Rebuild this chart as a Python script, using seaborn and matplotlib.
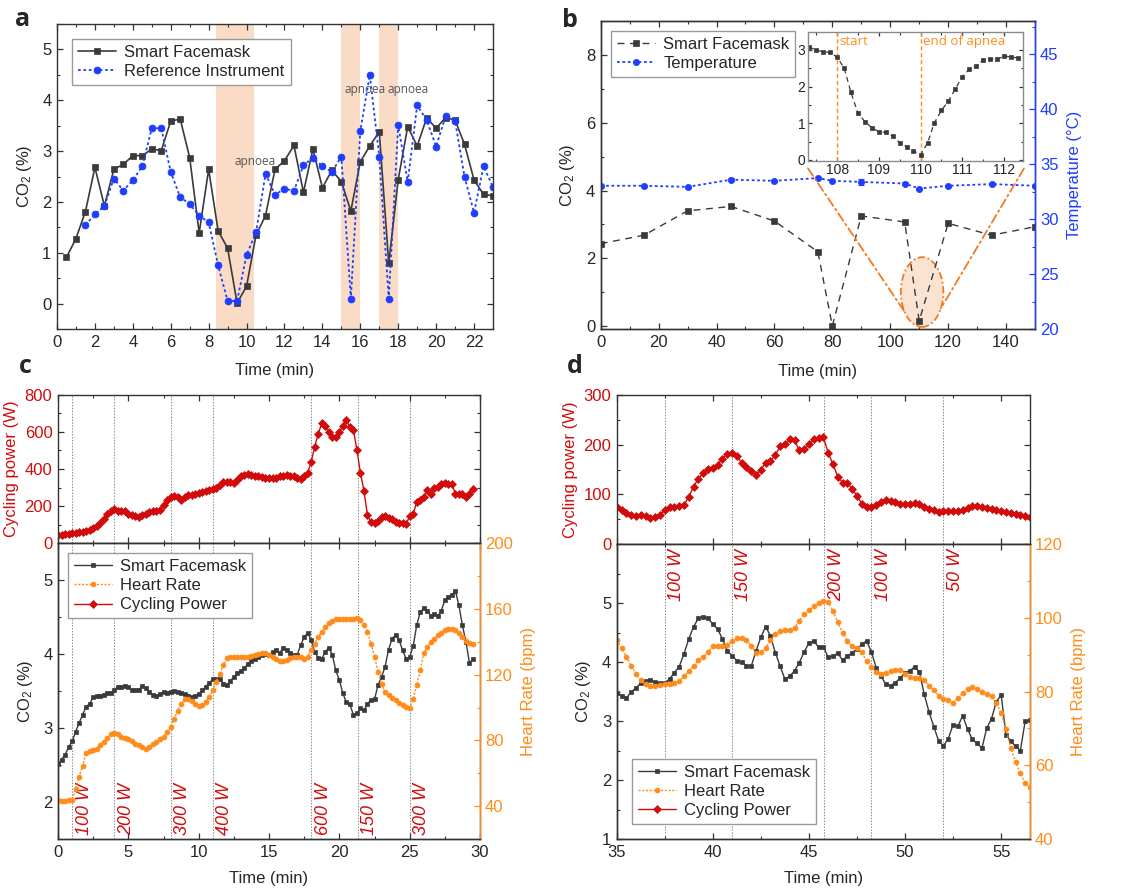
import numpy as np
import matplotlib
matplotlib.use('Agg')
import matplotlib.pyplot as plt
from matplotlib.ticker import MultipleLocator, FixedLocator
from matplotlib.patches import Ellipse, ConnectionPatch
import seaborn as sns

# ---------------- Panel a data ----------------
a_mask_time = np.arange(0.5, 23.01, 0.5)
a_mask_co2 = [0.91, 1.28, 1.81, 2.68, 1.92, 2.64, 2.74, 2.91, 2.91, 3.04, 3.01, 3.59,
              3.63, 2.87, 1.39, 2.64, 1.43, 1.09, 0.01, 0.34, 1.35, 1.73, 2.64, 2.81,
              3.11, 2.19, 3.04, 2.28, 2.62, 2.40, 1.82, 2.79, 3.10, 3.38, 0.79, 2.44,
              3.48, 3.10, 3.65, 3.45, 3.66, 3.61, 3.13, 2.43, 2.15, 2.12]
a_ref_time = np.arange(1.5, 23.01, 0.5)
a_ref_co2 = [1.54, 1.76, 1.92, 2.46, 2.22, 2.43, 2.70, 3.45, 3.45, 2.59, 2.09, 1.96,
             1.73, 1.60, 0.75, 0.05, 0.05, 0.96, 1.40, 2.55, 2.14, 2.26, 2.22, 2.72,
             2.87, 2.70, 2.59, 2.89, 0.10, 3.40, 4.50, 2.89, 0.10, 3.51, 2.39, 3.90,
             3.61, 3.09, 3.69, 3.59, 2.49, 1.79, 2.70, 2.29]
a_apnoea_start = [8.4, 15.0, 17.0]
a_apnoea_end = [10.4, 16.0, 18.0]
a_apnoea_label_x = [10.43, 16.25, 18.5]
a_apnoea_label_y = [2.80, 4.21, 4.21]

# ---------------- Panel b data ----------------
b_time = [0, 15, 30, 45, 60, 75, 80, 90, 105, 110, 120, 135, 150]
b_co2 = [2.43, 2.68, 3.40, 3.53, 3.10, 2.19, 0.0, 3.25, 3.07, 0.15, 3.03, 2.68, 2.93]
b_temp = [33.05, 33.05, 32.95, 33.6, 33.5, 33.75, 33.5, 33.4, 33.25, 32.8, 33.05, 33.2, 33.05]
b_temp_err = [0.1, 0.08, 0.1, 0.12, 0.08, 0.12, 0.1, 0.3, 0.1, 0.08, 0.1, 0.08, 0.08]
inset_time = [107.33, 107.5, 107.67, 107.83, 108.0, 108.17, 108.33, 108.5, 108.67, 108.83,
              109.0, 109.17, 109.33, 109.5, 109.67, 109.83, 110.0, 110.17, 110.33, 110.5,
              110.67, 110.83, 111.0, 111.17, 111.33, 111.5, 111.67, 111.83, 112.0, 112.17,
              112.33]
inset_co2 = [3.08, 2.99, 2.95, 2.93, 2.80, 2.50, 1.84, 1.27, 1.04, 0.88, 0.77, 0.75, 0.65,
             0.47, 0.36, 0.25, 0.14, 0.47, 1.01, 1.35, 1.61, 1.93, 2.27, 2.47, 2.55, 2.73,
             2.76, 2.74, 2.83, 2.81, 2.78]
apnea_start, apnea_end = 108.0, 110.0

# ---------------- Panel c data ----------------
c_time = np.arange(0, 29.51, 0.25)
c_power = [45, 46, 50, 52, 55, 58, 60, 63, 68, 74, 82, 95, 110, 130, 160, 175,
           185, 176, 172, 175, 160, 152, 146, 142, 150, 160, 168, 172, 175, 180, 205, 235,
           248, 252, 250, 235, 250, 262, 262, 268, 272, 278, 282, 288, 292, 300, 315, 328,
           332, 330, 326, 340, 360, 368, 375, 368, 362, 360, 358, 352, 350, 352, 350, 362,
           365, 368, 365, 360, 352, 346, 360, 378, 440, 520, 590, 645, 630, 598, 572, 572,
           600, 632, 662, 625, 612, 502, 380, 282, 150, 115, 110, 118, 140, 145, 135, 130,
           112, 108, 108, 105, 145, 158, 220, 235, 248, 285, 268, 300, 305, 318, 322, 318,
           318, 268, 265, 268, 248, 265, 292]
c_co2 = [2.51, 2.57, 2.64, 2.74, 2.82, 2.95, 3.07, 3.18, 3.29, 3.33, 3.42, 3.43,
         3.43, 3.45, 3.48, 3.47, 3.51, 3.56, 3.56, 3.57, 3.55, 3.52, 3.52, 3.52,
         3.57, 3.54, 3.49, 3.45, 3.44, 3.46, 3.49, 3.48, 3.49, 3.50, 3.49, 3.47,
         3.46, 3.44, 3.42, 3.44, 3.46, 3.51, 3.56, 3.61, 3.66, 3.66, 3.67, 3.60,
         3.58, 3.64, 3.69, 3.74, 3.77, 3.81, 3.87, 3.91, 3.94, 3.96, 3.99, 4.00,
         3.99, 4.03, 4.05, 4.01, 4.09, 4.06, 4.02, 3.99, 3.99, 4.12, 4.23, 4.29,
         4.19, 4.03, 3.95, 3.94, 4.03, 4.09, 3.99, 3.78, 3.65, 3.47, 3.35, 3.32,
         3.18, 3.20, 3.27, 3.24, 3.33, 3.38, 3.39, 3.58, 3.69, 3.83, 4.06, 4.21,
         4.26, 4.19, 4.05, 3.94, 3.96, 4.11, 4.39, 4.57, 4.62, 4.59, 4.52, 4.54,
         4.51, 4.59, 4.73, 4.78, 4.80, 4.86, 4.66, 4.39, 4.17, 3.88, 3.93]
c_hr = [43.5, 43, 43, 43.5, 43.9, 50.6, 57.7, 64.6, 72.5, 73.6, 74.4, 75,
        77, 79, 81.7, 84, 84.5, 84.1, 82, 81.3, 80.7, 79.7, 78, 77,
        76, 75, 76, 77.6, 79, 80.7, 82, 85, 88, 93, 98, 102,
        105, 105, 104, 102.4, 101.2, 101.6, 103.2, 106.5, 110.6, 115.7, 120.7, 125.8,
        129.9, 131, 131, 130.5, 130.5, 130.5, 131, 131.3, 132, 132.5, 133.3, 133,
        132, 130.5, 129.3, 128.5, 128.5, 128.9, 129.9, 130.5, 131, 130.5, 129.3, 131,
        135, 139, 143, 146.2, 148.8, 151.2, 152.9, 153.7, 153.9, 153.9, 153.9, 154.1,
        154.1, 154.7, 153.3, 150.2, 146.2, 139, 131, 121.8, 114.6, 109.6, 107.5, 106.1,
        104.5, 103, 101.8, 100.4, 99.8, 105.5, 113.6, 122.8, 133, 137, 140, 142,
        144, 145.7, 147.2, 147.6, 147.8, 147.2, 145.1, 142.7, 140.7, 139.4, 138.6]
c_steps = [1, 4, 8, 11, 18, 21.3, 25]
c_step_labels = ['100 W', '200 W', '300 W', '400 W', '600 W', '150 W', '300 W']

# ---------------- Panel d data ----------------
d_time = np.arange(35, 56.51, 0.25)
d_power = [74, 68, 62, 59, 57, 59, 57, 52, 54, 59, 69, 74, 74, 76, 79, 95,
           116, 132, 143, 151, 153, 160, 172, 182, 184, 177, 164, 155, 147, 140, 150, 164,
           167, 180, 197, 201, 211, 209, 189, 191, 202, 211, 214, 216, 184, 161, 136, 124,
           124, 111, 97, 81, 74, 74, 79, 84, 88, 86, 84, 81, 80, 80, 82, 80,
           74, 70, 68, 64, 66, 67, 67, 67, 69, 72, 76, 76, 74, 72, 70, 69,
           66, 64, 62, 61, 59, 57, 55]
d_co2 = [3.47, 3.43, 3.39, 3.49, 3.56, 3.64, 3.68, 3.69, 3.66, 3.64, 3.65, 3.71,
         3.82, 3.92, 4.14, 4.39, 4.60, 4.74, 4.77, 4.74, 4.64, 4.56, 4.39, 4.19,
         4.11, 4.02, 4.00, 3.94, 3.93, 4.19, 4.42, 4.60, 4.44, 4.16, 3.93, 3.71,
         3.76, 3.85, 3.99, 4.17, 4.32, 4.36, 4.25, 4.26, 4.08, 4.10, 4.15, 4.03,
         4.10, 4.16, 4.22, 4.30, 4.36, 4.17, 3.90, 3.76, 3.62, 3.60, 3.65, 3.73,
         3.82, 3.85, 3.92, 3.83, 3.45, 3.15, 2.90, 2.66, 2.58, 2.70, 2.94, 2.91,
         3.09, 2.86, 2.69, 2.62, 2.54, 2.88, 3.04, 3.33, 3.44, 2.77, 2.66, 2.57,
         2.50, 3.00, 3.01]
d_hr = [93.9, 91.8, 89.4, 87.0, 84.8, 83.0, 82.0, 81.4, 81.4, 81.7, 82.1, 82.1,
        82.3, 82.8, 84.1, 85.5, 86.8, 88.5, 89.4, 90.7, 92.3, 92.4, 92.4, 92.7,
        93.6, 94.4, 94.4, 94.1, 92.3, 90.5, 90.6, 91.8, 94.1, 95.6, 96.3, 96.6,
        96.8, 97.2, 99.2, 100.9, 102.0, 103.1, 103.9, 104.5, 104.2, 101.8, 98.8, 95.9,
        93.6, 92.4, 91.8, 90.6, 88.2, 86.6, 85.2, 84.7, 85.0, 85.5, 85.9, 85.7,
        84.8, 83.9, 83.7, 83.7, 83.0, 81.6, 80.3, 78.9, 78.0, 77.8, 77.0, 78.2,
        79.6, 80.7, 81.1, 80.7, 79.8, 79.4, 78.7, 77.0, 74.1, 69.8, 64.6, 61.0,
        57.8, 55.1, 54.2]
d_steps = [37.5, 41.0, 45.8, 48.25, 52.0]
d_step_labels = ['100 W', '150 W', '200 W', '100 W', '50 W']

# ---------------- Style ----------------
sns.set_theme(style='ticks')
plt.rcParams['font.family'] = ['Liberation Sans', 'DejaVu Sans']
plt.rcParams['mathtext.fontset'] = 'custom'
plt.rcParams['mathtext.rm'] = 'Liberation Sans'
plt.rcParams['mathtext.it'] = 'Liberation Sans:italic'
plt.rcParams['xtick.labelsize'] = 12
plt.rcParams['ytick.labelsize'] = 12
plt.rcParams['axes.labelsize'] = 12
plt.rcParams['legend.fontsize'] = 12

GRAY = '#3a3a3a'
BLUE = '#1f3dff'
ORANGE = '#ff8c1a'
RED = '#d10b0b'
PEACH = '#f9dbc6'
SPINE = '#333333'
STEPC = '#8c8c8c'

fig = plt.figure(figsize=(11.28, 8.91), dpi=100)
W, H = 1128.0, 891.0


def box(left, right, top, bottom):
    return [left / W, 1 - bottom / H, (right - left) / W, (bottom - top) / H]


def series(ax, x, y, color, marker, ls, ms, lw=1.0):
    sns.lineplot(x=list(x), y=list(y), ax=ax, color=color, marker=marker, markersize=ms,
                 linestyle=ls, linewidth=lw, markeredgecolor=color, markeredgewidth=0.5,
                 errorbar=None, estimator=None, sort=False)
    return ax.lines[-1]


def style(ax, xmaj, xmin, ymaj, ymin, top=True, right=True):
    ax.xaxis.set_major_locator(MultipleLocator(xmaj))
    ax.xaxis.set_minor_locator(MultipleLocator(xmin))
    ax.yaxis.set_major_locator(MultipleLocator(ymaj))
    ax.yaxis.set_minor_locator(MultipleLocator(ymin))
    ax.tick_params(which='both', direction='in', top=top, right=right, color=SPINE)
    ax.tick_params(which='major', length=4, width=0.9, pad=4)
    ax.tick_params(which='minor', length=2.3, width=0.8)
    for s in ax.spines.values():
        s.set_color(SPINE)
        s.set_linewidth(1.0)
    ax.set_xlabel('')
    ax.set_ylabel('')


def legend(ax, handles, labels, **kw):
    lg = ax.legend(handles, labels, frameon=True, fancybox=False, framealpha=1,
                   edgecolor='#9a9a9a', handlelength=2.3, labelspacing=0.25,
                   borderpad=0.35, handletextpad=0.5, **kw)
    lg.get_frame().set_linewidth(1.0)
    return lg


# ================= Panel a =================
ax_a = fig.add_axes(box(57, 493, 24, 329))
for s, e in zip(a_apnoea_start, a_apnoea_end):
    ax_a.axvspan(s, e, color=PEACH, lw=0, zorder=0)
la1 = series(ax_a, a_mask_time, a_mask_co2, GRAY, 's', '-', 4.3, 1.2)
la2 = series(ax_a, a_ref_time, a_ref_co2, BLUE, 'o', (0, (1.5, 1.5)), 5, 1.3)
for x, y in zip(a_apnoea_label_x, a_apnoea_label_y):
    ax_a.text(x, y, 'apnoea', color='#555555', fontsize=8.5, family='Open Sans',
              ha='center', va='center')
style(ax_a, 2, 1, 1, 0.5)
ax_a.set_xlim(0, 23)
ax_a.set_ylim(-0.5, 5.5)
ax_a.set_xlabel('Time (min)', labelpad=10)
ax_a.set_ylabel('CO$_2$ (%)', labelpad=6)
legend(ax_a, [la1, la2], ['Smart Facemask', 'Reference Instrument'],
       loc='upper left', borderaxespad=0.9)

# ================= Panel b =================
ax_b = fig.add_axes(box(600.7, 1035, 21.3, 329.3))
ax_bt = ax_b.twinx()
ell_cx, ell_cy, ell_w, ell_h = 111.0, 1.0, 14.7, 2.06
ax_b.add_patch(Ellipse((ell_cx, ell_cy), ell_w, ell_h, facecolor='#fbe3d2',
                       edgecolor='#f07a22', linestyle=(0, (4, 1.5, 1, 1.5)), lw=1.3, zorder=1))
lb1 = series(ax_b, b_time, b_co2, GRAY, 's', (0, (5, 4)), 4.5, 1.0)
ax_bt.errorbar(b_time, b_temp, yerr=b_temp_err, fmt='none', ecolor=BLUE, elinewidth=0.8,
               capsize=2, capthick=0.8)
lb2 = series(ax_bt, b_time, b_temp, BLUE, 'o', (0, (1.5, 1.5)), 4.5, 1.3)
style(ax_b, 20, 10, 2, 1, right=False)
ax_b.set_xlim(0, 150)
ax_b.set_ylim(-0.1, 9.0)
ax_b.set_xlabel('Time (min)', labelpad=10)
ax_b.set_ylabel('CO$_2$ (%)', labelpad=6)
ax_bt.yaxis.set_major_locator(MultipleLocator(5))
ax_bt.yaxis.set_minor_locator(MultipleLocator(2.5))
ax_bt.set_ylim(20, 48)
ax_bt.set_ylabel('Temperature (°C)', color=BLUE, labelpad=6)
ax_bt.tick_params(axis='y', which='both', direction='in', colors=BLUE)
ax_bt.tick_params(axis='y', which='major', length=4, width=0.9)
ax_bt.tick_params(axis='y', which='minor', length=2.3, width=0.8)
for k, s in ax_bt.spines.items():
    s.set_linewidth(1.0)
    s.set_color(BLUE if k == 'right' else SPINE)
ax_bt.set_xlabel('')
legend(ax_bt, [lb1, lb2], ['Smart Facemask', 'Temperature'], loc='upper left',
       borderaxespad=0.6)

# inset
ax_in = fig.add_axes(box(808, 1022.7, 32.3, 160.7))
ax_in.set_zorder(5)
ax_in.axvline(apnea_start, color=ORANGE, ls=(0, (3, 2)), lw=1.0)
ax_in.axvline(apnea_end, color=ORANGE, ls=(0, (3, 2)), lw=1.0)
series(ax_in, inset_time, inset_co2, GRAY, 's', (0, (4, 3)), 3.5, 0.9)
style(ax_in, 1, 0.5, 1, 0.5)
for s in ax_in.spines.values():
    s.set_color('#8a8a8a')
ax_in.tick_params(labelsize=10, pad=2)
ax_in.tick_params(which='major', length=3)
ax_in.tick_params(which='minor', length=1.8)
ax_in.set_xlim(107.3, 112.45)
ax_in.set_ylim(-0.02, 3.48)
ax_in.text(apnea_start + 0.05, 3.42, 'start', color=ORANGE, fontsize=9.5,
           family='Open Sans', va='top', ha='left')
ax_in.text(apnea_end + 0.05, 3.42, 'end of apnea', color=ORANGE, fontsize=9.5,
           family='Open Sans', va='top', ha='left')

# connectors from ellipse to inset
for ang, xa in [(214, 0.0), (332, 1.006)]:
    px = ell_cx + ell_w / 2 * np.cos(np.radians(ang))
    py = ell_cy + ell_h / 2 * np.sin(np.radians(ang))
    con = ConnectionPatch(xyA=(xa, -0.06), coordsA=ax_in.transAxes,
                          xyB=(px, py), coordsB=ax_b.transData,
                          color='#f07a22', lw=1.3, linestyle=(0, (5, 2, 1, 2)))
    fig.add_artist(con)

# ================= Panel c =================
ax_c1 = fig.add_axes(box(58, 480, 394.7, 543.3))
ax_c2 = fig.add_axes(box(58, 480, 543.3, 839))
ax_c2r = ax_c2.twinx()
for v in c_steps:
    ax_c1.axvline(v, color=STEPC, lw=0.7, ls=(0, (1.5, 1.5)), zorder=0)
    ax_c2.axvline(v, color=STEPC, lw=0.7, ls=(0, (1.5, 1.5)), zorder=0)
lc3 = series(ax_c1, c_time, c_power, RED, 'D', '-', 3.6, 1.0)
style(ax_c1, 5, 2.5, 200, 100)
ax_c1.set_xlim(0, 30)
ax_c1.set_ylim(0, 800)
ax_c1.tick_params(axis='x', labelbottom=False)
ax_c1.tick_params(axis='y', labelcolor=RED)
ax_c1.set_ylabel('Cycling power (W)', color=RED, labelpad=4)

lc1 = series(ax_c2, c_time, c_co2, GRAY, 's', '-', 3.2, 1.0)
lc2 = series(ax_c2r, c_time, c_hr, ORANGE, 'o', (0, (1.5, 1.2)), 3.6, 1.0)
style(ax_c2, 5, 2.5, 1, 0.5, right=False)
ax_c2.set_xlim(0, 30)
ax_c2.set_ylim(1.5, 5.5)
ax_c2.set_xlabel('Time (min)', labelpad=8)
ax_c2.set_ylabel('CO$_2$ (%)', labelpad=6)
ax_c2r.yaxis.set_major_locator(MultipleLocator(40))
ax_c2r.yaxis.set_minor_locator(MultipleLocator(20))
ax_c2r.set_ylim(20, 200)
ax_c2r.tick_params(axis='y', which='both', direction='in', colors=ORANGE)
ax_c2r.tick_params(axis='y', which='major', length=4, width=0.9)
ax_c2r.tick_params(axis='y', which='minor', length=2.3, width=0.8)
for k, s in ax_c2r.spines.items():
    s.set_linewidth(1.0)
    s.set_color(ORANGE if k == 'right' else SPINE)
ax_c2r.set_xlabel('')
ax_c2r.set_ylabel('Heart Rate (bpm)', color=ORANGE, labelpad=6)
for v, lab in zip(c_steps, c_step_labels):
    ax_c2.text(v + 0.87, 1.56, lab, rotation=90, color=RED, style='italic', fontsize=13,
               ha='center', va='bottom')
legend(ax_c2r, [lc1, lc2, lc3], ['Smart Facemask', 'Heart Rate', 'Cycling Power'],
       loc='upper left', borderaxespad=0.6)

# ================= Panel d =================
ax_d1 = fig.add_axes(box(616.7, 1030, 395.3, 544))
ax_d2 = fig.add_axes(box(616.7, 1030, 544, 839))
ax_d2r = ax_d2.twinx()
for v in d_steps:
    ax_d1.axvline(v, color=STEPC, lw=0.7, ls=(0, (1.5, 1.5)), zorder=0)
    ax_d2.axvline(v, color=STEPC, lw=0.7, ls=(0, (1.5, 1.5)), zorder=0)
ld3 = series(ax_d1, d_time, d_power, RED, 'D', '-', 3.6, 1.0)
style(ax_d1, 5, 2.5, 100, 50)
ax_d1.set_xlim(35, 56.5)
ax_d1.set_ylim(0, 300)
ax_d1.tick_params(axis='x', labelbottom=False)
ax_d1.tick_params(axis='y', labelcolor=RED)
ax_d1.set_ylabel('Cycling power (W)', color=RED, labelpad=4)

ld1 = series(ax_d2, d_time, d_co2, GRAY, 's', '-', 3.2, 1.0)
ld2 = series(ax_d2r, d_time, d_hr, ORANGE, 'o', (0, (1.5, 1.2)), 3.6, 1.0)
style(ax_d2, 5, 2.5, 1, 0.5, right=False)
ax_d2.yaxis.set_major_locator(FixedLocator([1, 2, 3, 4, 5]))
ax_d2.set_xlim(35, 56.5)
ax_d2.set_ylim(1, 6)
ax_d2.set_xlabel('Time (min)', labelpad=8)
ax_d2.set_ylabel('CO$_2$ (%)', labelpad=6)
ax_d2r.yaxis.set_major_locator(MultipleLocator(20))
ax_d2r.yaxis.set_minor_locator(MultipleLocator(10))
ax_d2r.set_ylim(40, 120)
ax_d2r.tick_params(axis='y', which='both', direction='in', colors=ORANGE)
ax_d2r.tick_params(axis='y', which='major', length=4, width=0.9)
ax_d2r.tick_params(axis='y', which='minor', length=2.3, width=0.8)
for k, s in ax_d2r.spines.items():
    s.set_linewidth(1.0)
    s.set_color(ORANGE if k == 'right' else SPINE)
ax_d2r.set_xlabel('')
ax_d2r.set_ylabel('Heart Rate (bpm)', color=ORANGE, labelpad=6)
for v, lab in zip(d_steps, d_step_labels):
    ax_d2.text(v + 0.62, 5.92, lab, rotation=90, color=RED, style='italic', fontsize=13,
               ha='center', va='top')
legend(ax_d2r, [ld1, ld2, ld3], ['Smart Facemask', 'Heart Rate', 'Cycling Power'],
       loc='lower left', borderaxespad=0.9)

# panel letters
for txt, x, y in [('a', 15, 26), ('b', 562, 27), ('c', 19, 373), ('d', 567, 373)]:
    fig.text(x / W, 1 - y / H, txt, fontsize=18, fontweight='bold', family='Open Sans',
             va='baseline', ha='left')

fig.savefig('out.png', dpi=100)
